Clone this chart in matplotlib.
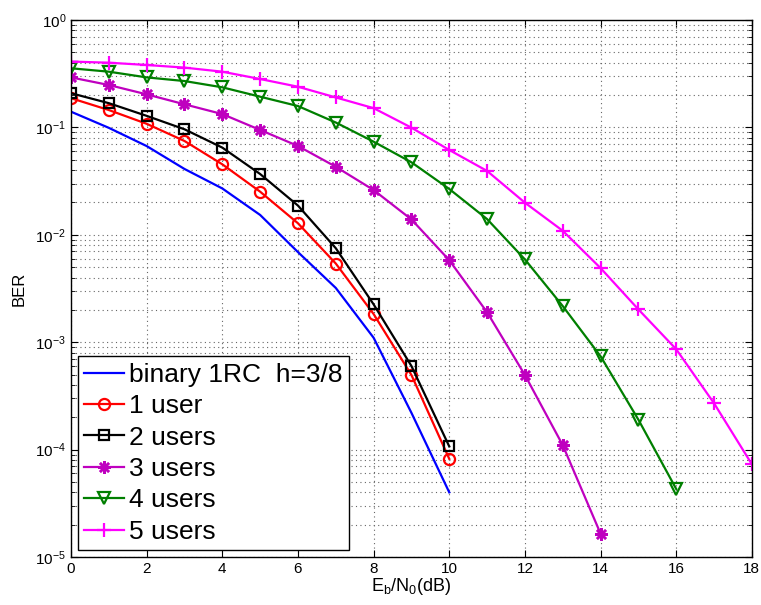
import numpy as np
import matplotlib.pyplot as plt
from matplotlib.ticker import LogLocator, MultipleLocator, NullFormatter

plt.rcParams['font.family'] = ['Liberation Sans', 'DejaVu Sans']

# Eb/N0 grids (dB)
snr_10 = [0, 1, 2, 3, 4, 5, 6, 7, 8, 9, 10]
snr_14 = [0, 1, 2, 3, 4, 5, 6, 7, 8, 9, 10, 11, 12, 13, 14]
snr_16 = [0, 1, 2, 3, 4, 5, 6, 7, 8, 9, 10, 11, 12, 13, 14, 15, 16]
snr_18 = [0, 1, 2, 3, 4, 5, 6, 7, 8, 9, 10, 11, 12, 13, 14, 15, 16, 17, 18]

# BER curves
ber_binary = [0.14, 0.099, 0.067, 0.041, 0.027, 0.0153, 0.0069, 0.0032, 0.0011, 2.2e-4, 4.0e-5]
ber_1user = [0.187, 0.145, 0.108, 0.0747, 0.0453, 0.0252, 0.0128, 0.0054, 0.00183, 4.95e-4, 8.2e-5]
ber_2users = [0.208, 0.168, 0.128, 0.096, 0.0648, 0.0368, 0.0187, 0.0075, 0.00225, 6.0e-4, 1.07e-4]
ber_3users = [0.292, 0.248, 0.203, 0.164, 0.133, 0.0946, 0.0671, 0.043, 0.0261, 0.0139,
              0.0058, 0.0019, 4.95e-4, 1.1e-4, 1.65e-5]
ber_4users = [0.355, 0.33, 0.292, 0.27, 0.236, 0.193, 0.158, 0.111, 0.0736, 0.0473,
              0.0267, 0.014, 0.0059, 0.00217, 7.4e-4, 1.9e-4, 4.3e-5]
ber_5users = [0.41, 0.40, 0.381, 0.36, 0.33, 0.282, 0.239, 0.19, 0.151, 0.0994,
              0.0616, 0.0393, 0.0199, 0.0109, 0.0049, 0.00202, 8.6e-4, 2.7e-4, 7.3e-5]

fig = plt.figure(figsize=(7.61, 6.05), dpi=100)
ax = fig.add_axes([0.0933, 0.0793, 0.8947, 0.8877])

lw, ms = 1.6, 8
ax.semilogy(snr_10, ber_binary, '-', color='#0000ff', lw=lw, label='binary 1RC  h=3/8')
ax.semilogy(snr_10, ber_1user, '-o', color='#ff0000', lw=lw, ms=ms, mfc='none', mew=1.6, label='1 user')
ax.semilogy(snr_10, ber_2users, '-s', color='#000000', lw=lw, ms=7, mfc='none', mew=1.6, label='2 users')
ax.semilogy(snr_14, ber_3users, '-', marker=(8, 2, 0), color='#bf00bf', lw=lw, ms=9, mew=1.8, label='3 users')
ax.semilogy(snr_16, ber_4users, '-v', color='#007f00', lw=lw, ms=ms, mfc='none', mew=1.6, label='4 users')
ax.semilogy(snr_18, ber_5users, '-+', color='#ff00ff', lw=lw, ms=10, mew=1.6, label='5 users')

ax.set_xlim(0, 18)
ax.set_ylim(1e-5, 1)
ax.xaxis.set_major_locator(MultipleLocator(2))
ax.yaxis.set_major_locator(LogLocator(base=10, numticks=10))
ax.yaxis.set_minor_locator(LogLocator(base=10, subs=np.arange(2, 10), numticks=20))
ax.yaxis.set_minor_formatter(NullFormatter())

ax.grid(True, which='major', linestyle=(0, (1, 3)), color='#666666', lw=0.8)
ax.grid(True, which='minor', axis='y', linestyle=(0, (1, 3)), color='#666666', lw=0.8)
ax.tick_params(which='both', direction='in', top=True, right=True, labelsize=11)
ax.tick_params(which='major', length=5)
ax.tick_params(which='minor', length=3)
for s in ax.spines.values():
    s.set_linewidth(1.0)

ax.set_xlabel('E$_\\mathregular{b}$/N$_\\mathregular{0}$(dB)', fontsize=13, labelpad=0)
ax.set_ylabel('BER', fontsize=12, labelpad=6)

leg = ax.legend(loc='lower left', fontsize=19, handlelength=1.5, handletextpad=0.2,
                labelspacing=0.28, borderpad=0.25, borderaxespad=0.25,
                fancybox=False, edgecolor='black', framealpha=1)
leg.get_frame().set_linewidth(1.0)

fig.savefig('out.png', dpi=100)
